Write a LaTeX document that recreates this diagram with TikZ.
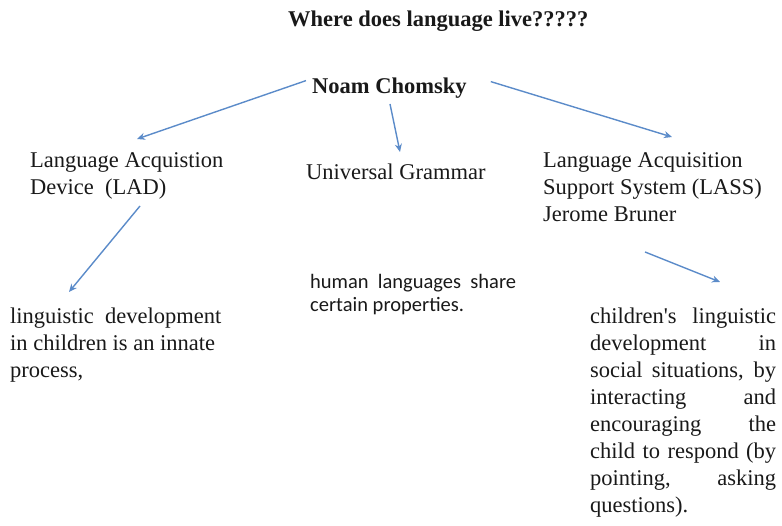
\documentclass[tikz,border=0pt]{standalone}
\usepackage{fontspec}
\setmainfont{Liberation Serif}
\newfontfamily\bodysans{Carlito}
\usetikzlibrary{arrows.meta}
\definecolor{linkblue}{RGB}{91,139,201}
\definecolor{ink}{RGB}{25,25,25}
\begin{document}
\begin{tikzpicture}[x=1pt,y=-1pt,
  serif/.style={inner sep=0pt, anchor=base west, align=left, text=ink,
    font=\fontsize{22.5}{27}\selectfont},
  heading/.style={serif, font=\fontsize{22.5}{27}\selectfont\bfseries},
  sanstext/.style={inner sep=0pt, anchor=base west, align=left, text=ink,
    font=\bodysans\fontsize{20.5}{23}\selectfont},
  link/.style={draw=linkblue, line width=1.4pt,
    -{Stealth[length=8pt,width=7pt,inset=2.5pt]}}]
\useasboundingbox (0,0) rectangle (782,526);

% headings (positions are the baseline of the last line)
\node[heading] (title) at (288,27) {Where does language live?????};
\node[heading] (noam) at (312,94) {Noam Chomsky};

% the three branches
\node[serif] (lad) at (30,195) {Language Acquistion\\Device\ \ (LAD)};
\node[serif] (ug) at (306,180) {Universal Grammar};
\node[serif] (lass) at (543,222) {Language Acquisition\\Support System (LASS)\\Jerome Bruner};

% explanations
\node[serif] (innate) at (10,378) {linguistic\ \ development\\in children is an innate\\process,};
\node[sanstext] (share) at (310,312) {human\ \ languages\ \ share\\certain properties.};
\node[serif] (social) at (590,512) {%
  \makebox[186pt][s]{children\textquotesingle s linguistic}\\
  \makebox[186pt][s]{development in}\\
  \makebox[186pt][s]{social situations, by}\\
  \makebox[186pt][s]{interacting and}\\
  \makebox[186pt][s]{encouraging the}\\
  \makebox[186pt][s]{child to respond (by}\\
  \makebox[186pt][s]{pointing, asking}\\
  questions).};

% arrow end points
\coordinate (ladtip) at (137,139);
\coordinate (ugtop) at (390,104);
\coordinate (ugtip) at (400,152);
\coordinate (lasstip) at (672,137);
\coordinate (ladfoot) at (140,206);
\coordinate (innatetip) at (69,292);
\coordinate (lassfoot) at (645,252);
\coordinate (socialtip) at (720,282);

\draw[link] (noam.west) ++(-6,-8) -- (ladtip);
\draw[link] (ugtop) -- (ugtip);
\draw[link] (noam.east) ++(24,-7) -- (lasstip);
\draw[link] (ladfoot) -- (innatetip);
\draw[link] (lassfoot) -- (socialtip);
\end{tikzpicture}
\end{document}
